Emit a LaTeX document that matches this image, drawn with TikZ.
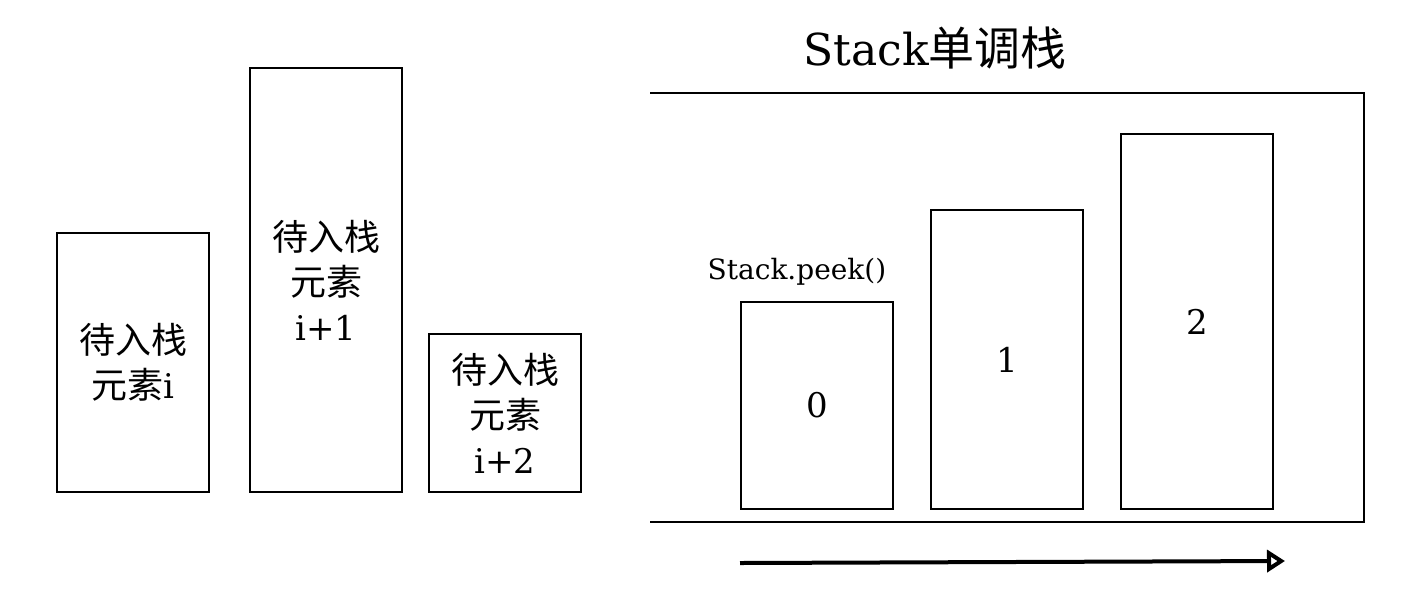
\documentclass[tikz,border=0pt]{standalone}
\usepackage{fontspec}
\setmainfont{DejaVu Serif}
\newfontfamily\cjk{Noto Sans CJK SC}
\usetikzlibrary{arrows.meta}

\tikzset{
  elem/.style={draw, black, line width=1.4pt, minimum width=76pt, inner sep=0pt, align=center, font=\fontsize{17}{22.5}\selectfont},
}

\begin{document}
\begin{tikzpicture}[x=0.5pt,y=-0.5pt]
\useasboundingbox (0,0) rectangle (1421,602);

\node [elem, minimum height=129.5pt] (ei) at (133,362.5) {{\cjk\fontsize{18}{22.5}\selectfont 待入栈}\\{\cjk\fontsize{18}{22.5}\selectfont 元素}i};
\node [elem, minimum height=212pt] (eia) at (326,280) {{\cjk\fontsize{18}{22.5}\selectfont 待入栈}\\{\cjk\fontsize{18}{22.5}\selectfont 元素}\\i+1};
\node [elem, minimum height=79pt] (eib) at (505,413) {{\cjk\fontsize{18}{22.5}\selectfont 待入栈}\\{\cjk\fontsize{18}{22.5}\selectfont 元素}\\i+2};

\node [font=\fontsize{22}{27}\selectfont] (title) at (935,48) {Stack{\cjk\fontsize{23}{27}\selectfont 单调栈}};
\draw [black, line width=1.4pt] (650,93) -- (1364,93) -- (1364,522) -- (650,522);

\node [elem, minimum height=103.5pt] (s0) at (817,405.5) {0};
\node [elem, minimum height=149.5pt] (s1) at (1007,359.5) {1};
\node [elem, minimum height=187.5pt] (s2) at (1197,321.5) {2};
\node [font=\fontsize{14}{17}\selectfont] (peek) at (797,272) {Stack.peek()};

\coordinate (from) at (740,563);
\coordinate (to) at (1285,561);
\draw [-{Triangle[open,length=9pt,width=11pt]}, black, line width=2pt] (from) -- (to);
\end{tikzpicture}
\end{document}
